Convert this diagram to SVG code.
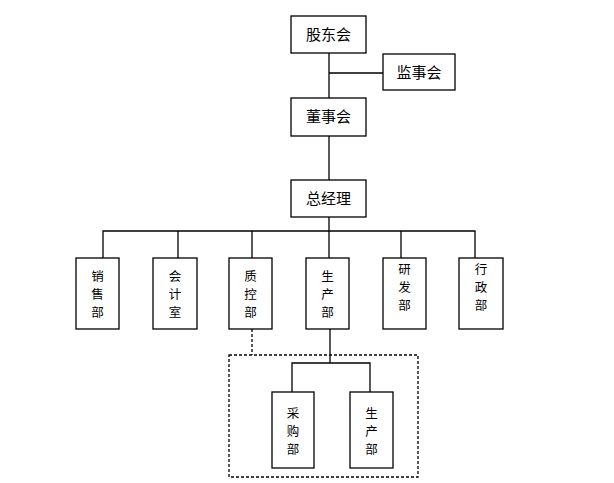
<svg xmlns="http://www.w3.org/2000/svg" width="614" height="483" viewBox="0 0 614 483">
<style>
rect{fill:#fff;stroke:#000;stroke-width:1.3}
text{font-family:"Noto Sans CJK SC","Liberation Sans",sans-serif;font-size:15px;text-anchor:middle;fill:#000}
.v{font-size:12.5px}
.c line,.c path{stroke:#000;stroke-width:1.3;fill:none}
.d{stroke-dasharray:3 2}
</style>
<rect x="0" y="0" width="614" height="483" style="stroke:none"/>
<g class="c" id="connectors">
<line x1="329" y1="53" x2="329" y2="98"/>
<line x1="329" y1="73" x2="383" y2="73"/>
<line x1="329" y1="136" x2="329" y2="180"/>
<line x1="329" y1="217" x2="329" y2="258"/>
<path d="M103 258V231H475V258M178 231V258M252 231V258M401 231V258"/>
<path d="M330 329V363M292 392V363H370V392"/>
<line class="d" x1="252" y1="329" x2="252" y2="355"/>
<rect class="d" x="229" y="355" width="189" height="122" style="fill:none"/>
</g>
<g id="gdh"><rect x="291" y="16" width="75" height="37"/><text x="328.5" y="40">股东会</text></g>
<g id="jsh"><rect x="383" y="54" width="72" height="36"/><text x="419" y="78">监事会</text></g>
<g id="dsh"><rect x="291" y="98" width="75" height="38"/><text x="328.5" y="122">董事会</text></g>
<g id="zjl"><rect x="291" y="180" width="75" height="37"/><text x="328.5" y="204">总经理</text></g>
<g id="xsb"><rect x="76" y="258" width="43" height="71"/><text class="v" x="97.5" y="281">销</text><text class="v" x="97.5" y="299">售</text><text class="v" x="97.5" y="317">部</text></g>
<g id="kjs"><rect x="153" y="258" width="44" height="71"/><text class="v" x="175" y="281">会</text><text class="v" x="175" y="299">计</text><text class="v" x="175" y="317">室</text></g>
<g id="zkb"><rect x="229" y="258" width="43" height="71"/><text class="v" x="250.5" y="281">质</text><text class="v" x="250.5" y="299">控</text><text class="v" x="250.5" y="317">部</text></g>
<g id="scb"><rect x="306" y="258" width="43" height="71"/><text class="v" x="327.5" y="281">生</text><text class="v" x="327.5" y="299">产</text><text class="v" x="327.5" y="317">部</text></g>
<g id="yfb"><rect x="383" y="258" width="43" height="71"/><text class="v" x="404.5" y="274">研</text><text class="v" x="404.5" y="292">发</text><text class="v" x="404.5" y="310">部</text></g>
<g id="xzb"><rect x="459" y="258" width="44" height="71"/><text class="v" x="481" y="274">行</text><text class="v" x="481" y="292">政</text><text class="v" x="481" y="310">部</text></g>
<g id="cgb"><rect x="272" y="392" width="42" height="76"/><text class="v" x="293" y="418">采</text><text class="v" x="293" y="436">购</text><text class="v" x="293" y="454">部</text></g>
<g id="scb2"><rect x="350" y="392" width="43" height="76"/><text class="v" x="371.5" y="418">生</text><text class="v" x="371.5" y="436">产</text><text class="v" x="371.5" y="454">部</text></g>
</svg>
